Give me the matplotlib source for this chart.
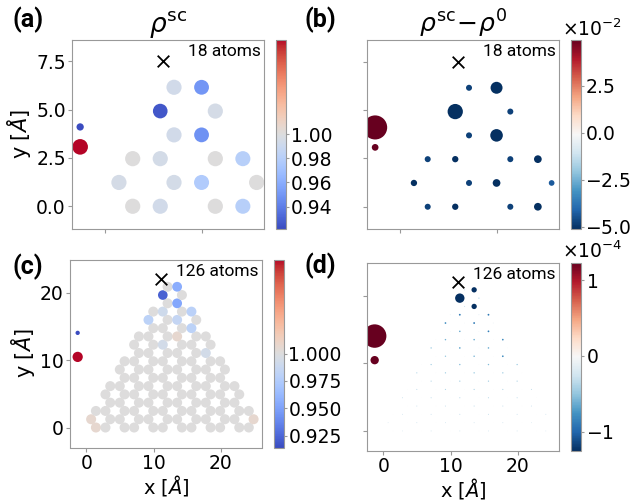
import numpy as np
import matplotlib.pyplot as plt
from matplotlib.colors import TwoSlopeNorm, Normalize

W, H = 631, 501

# ---- 18-atom flake: panels (a) and (b) ----
x18 = [1.42, 2.84, 5.68, 7.10,
       0.71, 3.55, 4.97, 7.81,
       1.42, 2.84, 5.68, 7.10,
       3.55, 4.97,
       2.84, 5.68,
       3.55, 4.97]
y18 = [0.00, 0.00, 0.00, 0.00,
       1.23, 1.23, 1.23, 1.23,
       2.46, 2.46, 2.46, 2.46,
       3.69, 3.69,
       4.92, 4.92,
       6.15, 6.15]
rho18 = [1.000, 0.993, 1.000, 0.980,
         0.995, 0.994, 0.977, 1.000,
         1.000, 0.994, 1.000, 0.980,
         0.993, 0.948,
         0.926, 0.995,
         0.993, 0.950]
drho18 = [-0.048, -0.053, -0.048, -0.079,
          -0.053, -0.048, -0.079, -0.043,
          -0.048, -0.053, -0.048, -0.079,
          -0.048, -0.21,
          -0.31, -0.048,
          -0.048, -0.19]
lead_x18 = [-1.29, -1.29]
lead_y18 = [3.07, 4.10]
lead_rho18 = [1.05, 0.23]
lead_drho18 = [0.060, 0.77]
tip18 = (3.00, 7.50)

# ---- 126-atom flake: panels (c) and (d), listed row by row ----
rows_y = [0.00, 1.23, 2.46, 3.69, 4.92, 6.15, 7.38, 8.61, 9.84,
          11.07, 12.30, 13.53, 14.76, 15.99, 17.22, 18.45, 19.68, 20.91]
rows_x = [
    [1.42, 2.84, 5.68, 7.10, 9.94, 11.36, 14.20, 15.62, 18.46, 19.88, 22.72, 24.14],
    [0.71, 3.55, 4.97, 7.81, 9.23, 12.07, 13.49, 16.33, 17.75, 20.59, 22.01, 24.85],
    [1.42, 2.84, 5.68, 7.10, 9.94, 11.36, 14.20, 15.62, 18.46, 19.88, 22.72, 24.14],
    [3.55, 4.97, 7.81, 9.23, 12.07, 13.49, 16.33, 17.75, 20.59, 22.01],
    [2.84, 5.68, 7.10, 9.94, 11.36, 14.20, 15.62, 18.46, 19.88, 22.72],
    [3.55, 4.97, 7.81, 9.23, 12.07, 13.49, 16.33, 17.75, 20.59, 22.01],
    [5.68, 7.10, 9.94, 11.36, 14.20, 15.62, 18.46, 19.88],
    [4.97, 7.81, 9.23, 12.07, 13.49, 16.33, 17.75, 20.59],
    [5.68, 7.10, 9.94, 11.36, 14.20, 15.62, 18.46, 19.88],
    [7.81, 9.23, 12.07, 13.49, 16.33, 17.75],
    [7.10, 9.94, 11.36, 14.20, 15.62, 18.46],
    [7.81, 9.23, 12.07, 13.49, 16.33, 17.75],
    [9.94, 11.36, 14.20, 15.62],
    [9.23, 12.07, 13.49, 16.33],
    [9.94, 11.36, 14.20, 15.62],
    [12.07, 13.49],
    [11.36, 14.20],
    [12.07, 13.49],
]
rows_rho = [
    [1.0015, 1.0, 1.0, 1.0, 1.0, 1.0, 1.0, 1.0, 1.0, 1.0, 1.0, 1.0],
    [1.0015, 1.0, 1.0, 1.0, 1.0, 1.0, 1.0, 1.0, 1.0, 1.0, 1.0, 1.0015],
    [1.0, 1.0, 1.0, 1.0, 1.0, 1.0, 1.0, 1.0, 1.0, 1.0, 1.0, 1.0],
    [1.0, 1.0, 1.0, 1.0, 1.0, 1.0, 1.0, 1.0, 1.0, 1.0],
    [1.0, 1.0, 1.0, 1.0, 1.0, 1.0, 1.0, 1.0, 1.0, 1.0],
    [1.0, 1.0, 1.0, 1.0, 1.0, 1.0, 1.0, 1.0, 1.0, 1.0],
    [1.0, 1.0, 1.0, 1.0, 1.0, 1.0, 1.0, 1.0],
    [1.0, 1.0, 1.0, 1.0, 1.0, 1.0, 1.0, 1.0],
    [1.0, 1.0, 1.0, 1.0, 1.0, 1.0, 1.0, 1.0],
    [1.0, 1.0, 1.0, 1.0, 1.0, 0.993],
    [1.0, 1.0, 0.993, 1.0, 1.0, 1.0],
    [1.0, 1.0, 1.0, 1.0015, 1.0, 1.0],
    [1.0, 1.0, 1.0, 0.981],
    [0.981, 1.0, 0.985, 1.0],
    [1.0, 0.991, 1.0, 0.980],
    [1.0, 0.953],
    [0.923, 1.0],
    [1.0, 0.956],
]
# rho^sc - rho^0 in units of 1e-5
rows_drho = [
    [-0.3, -2.0, -0.3, -2.5, -0.3, -2.5, -0.3, -2.5, -0.3, -2.5, -0.3, -2.0],
    [-2.0, -0.3, -2.5, -0.3, -2.5, -0.3, -2.5, -0.3, -2.5, -0.3, -2.0, -0.3],
    [-0.3, -2.5, -0.3, -2.8, -0.3, -3.0, -0.3, -3.0, -0.3, -2.8, -0.3, -2.5],
    [-0.3, -2.8, -0.3, -3.0, -0.3, -3.2, -0.3, -3.0, -0.3, -2.8],
    [-2.8, -0.3, -3.2, -0.3, -3.5, -0.3, -3.5, -0.3, -3.2, -0.4],
    [-0.4, -3.2, -0.4, -3.8, -0.4, -4.0, -0.4, -3.8, -0.4, -3.2],
    [-0.4, -3.8, -0.4, -4.5, -0.5, -4.5, -0.4, -4.0],
    [-3.8, -0.5, -4.5, -0.5, -5.0, -0.5, -4.8, -0.4],
    [-0.5, -4.5, -0.5, -5.5, -0.6, -5.5, -0.5, -4.8],
    [-0.5, -5.0, -0.6, -6.0, -0.6, -8.0],
    [-5.0, -0.6, -7.0, -0.7, -6.5, -0.6],
    [-0.6, -6.0, -0.8, -6.5, -0.7, -8.0],
    [-0.8, -6.5, -1.0, -8.5],
    [-8.0, -1.0, -9.0, -1.5],
    [-1.5, -9.0, -2.0, -9.0],
    [-3.0, -77.0],
    [-240.0, -4.0],
    [-3.0, -77.0],
]
lead_x126 = [-1.29, -1.29]
lead_y126 = [10.49, 14.06]
lead_rho126 = [1.05, 0.185]
lead_drho126 = [1.9e-3, 1.5e-2]
tip126 = (11.10, 22.04)

x126 = [x for row in rows_x for x in row]
y126 = [rows_y[i] for i, row in enumerate(rows_x) for _ in row]
rho126 = [v for row in rows_rho for v in row]
drho126 = [v * 1e-5 for row in rows_drho for v in row]

plt.rcParams['font.family'] = 'DejaVu Sans'
fig = plt.figure(figsize=(W / 100, H / 100), dpi=100)


def rect(l, t, w, h):
    return [l / W, 1 - (t + h) / H, w / W, h / H]


GREY = '#999999'
TICK = 13.5


def panel(ax_rect, cb_rect, x, y, vals, sizes, cmap, norm, tip, label, xlim, ylim):
    ax = fig.add_axes(rect(*ax_rect))
    sc = ax.scatter(x, y, c=vals, s=sizes, cmap=cmap, norm=norm, linewidths=0)
    ax.scatter([tip[0]], [tip[1]], marker='x', s=70, c='k', linewidths=1.3)
    ax.set_xlim(*xlim)
    ax.set_ylim(*ylim)
    ax.text(0.984, 0.937, label, transform=ax.transAxes, ha='right', va='center',
            fontsize=12.5, family='Roboto')
    for s in ax.spines.values():
        s.set_edgecolor(GREY)
    ax.tick_params(color=GREY, labelsize=TICK, length=3, pad=1.5)
    cax = fig.add_axes(rect(*cb_rect))
    cb = fig.colorbar(sc, cax=cax)
    cb.outline.set_edgecolor(GREY)
    cb.outline.set_linewidth(0.8)
    cax.tick_params(color=GREY, labelsize=TICK, length=2.5, pad=1)
    return ax, cb


lim18 = ((-1.71, 8.19), (-1.15, 8.62))
lim126 = ((-2.43, 26.1), (-2.97, 24.96))

# (a)
ax_a, cb_a = panel((72, 39.5, 192, 189), (276, 39.5, 10, 189),
                   x18 + lead_x18, y18 + lead_y18, rho18 + lead_rho18,
                   [120 * r for r in rho18 + lead_rho18], 'coolwarm',
                   TwoSlopeNorm(vcenter=1.0, vmin=0.922, vmax=1.015),
                   tip18, '18 atoms', *lim18)
ax_a.set_xticks([0, 5])
ax_a.set_xticklabels([])
ax_a.set_yticks([0, 2.5, 5, 7.5])
ax_a.set_ylabel(r'y [$\AA$]', fontsize=15, labelpad=2)
ax_a.set_title(r'$\rho^{\mathrm{sc}}$', fontsize=19, pad=2)
cb_a.set_ticks([0.94, 0.96, 0.98, 1.00])

# (b)
ax_b, cb_b = panel((367, 40, 192, 189), (570.5, 40, 10, 189),
                   x18 + lead_x18, y18 + lead_y18, drho18 + lead_drho18,
                   [390 * abs(d) for d in drho18 + lead_drho18], 'RdBu_r',
                   Normalize(vmin=-0.0512, vmax=0.0493),
                   tip18, '18 atoms', *lim18)
ax_b.set_xticks([0, 5])
ax_b.set_xticklabels([])
ax_b.set_yticks([0, 2.5, 5, 7.5])
ax_b.set_yticklabels([])
ax_b.set_title(r'$\rho^{\mathrm{sc}}\!-\!\rho^{0}$', fontsize=18, pad=2)
cb_b.set_ticks([-0.05, -0.025, 0, 0.025])
cb_b.formatter.set_powerlimits((0, 0))
cb_b.formatter.set_useMathText(True)
cb_b.ax.yaxis.offsetText.set_fontsize(TICK)
cb_b.ax.yaxis.offsetText.set_horizontalalignment('left')
cb_b.ax.yaxis.offsetText.set_x(-0.9)

# (c)
ax_c, cb_c = panel((70, 259.5, 192, 188), (273.5, 259.5, 10, 188),
                   x126 + lead_x126, y126 + lead_y126, rho126 + lead_rho126,
                   [52 * r for r in rho126 + lead_rho126], 'coolwarm',
                   TwoSlopeNorm(vcenter=1.0, vmin=0.9145, vmax=1.02),
                   tip126, '126 atoms', *lim126)
ax_c.set_xticks([0, 10, 20])
ax_c.set_yticks([0, 10, 20])
ax_c.set_xlabel(r'x [$\AA$]', fontsize=14, labelpad=0)
ax_c.set_ylabel(r'y [$\AA$]', fontsize=15, labelpad=2)
cb_c.set_ticks([0.925, 0.950, 0.975, 1.000])

# (d)
ax_d, cb_d = panel((367, 262.5, 192, 188.5), (571, 262.5, 10, 188.5),
                   x126 + lead_x126, y126 + lead_y126, drho126 + lead_drho126,
                   [19000 * abs(d) for d in drho126 + lead_drho126], 'RdBu_r',
                   Normalize(vmin=-1.255e-4, vmax=1.233e-4),
                   tip126, '126 atoms', *lim126)
ax_d.set_xticks([0, 10, 20])
ax_d.set_yticks([0, 10, 20])
ax_d.set_yticklabels([])
ax_d.set_xlabel(r'x [$\AA$]', fontsize=14, labelpad=0)
cb_d.set_ticks([-1e-4, 0, 1e-4])
cb_d.formatter.set_powerlimits((0, 0))
cb_d.formatter.set_useMathText(True)
cb_d.ax.yaxis.offsetText.set_fontsize(TICK)
cb_d.ax.yaxis.offsetText.set_horizontalalignment('left')
cb_d.ax.yaxis.offsetText.set_x(-0.9)

for lbl, px, py in [('(a)', 12, 20), ('(b)', 305, 20), ('(c)', 12, 267), ('(d)', 305, 266)]:
    fig.text(px / W, 1 - py / H, lbl, fontsize=18, fontweight='bold',
             family='Roboto', va='center', ha='left')

fig.savefig('out.png', dpi=100)
